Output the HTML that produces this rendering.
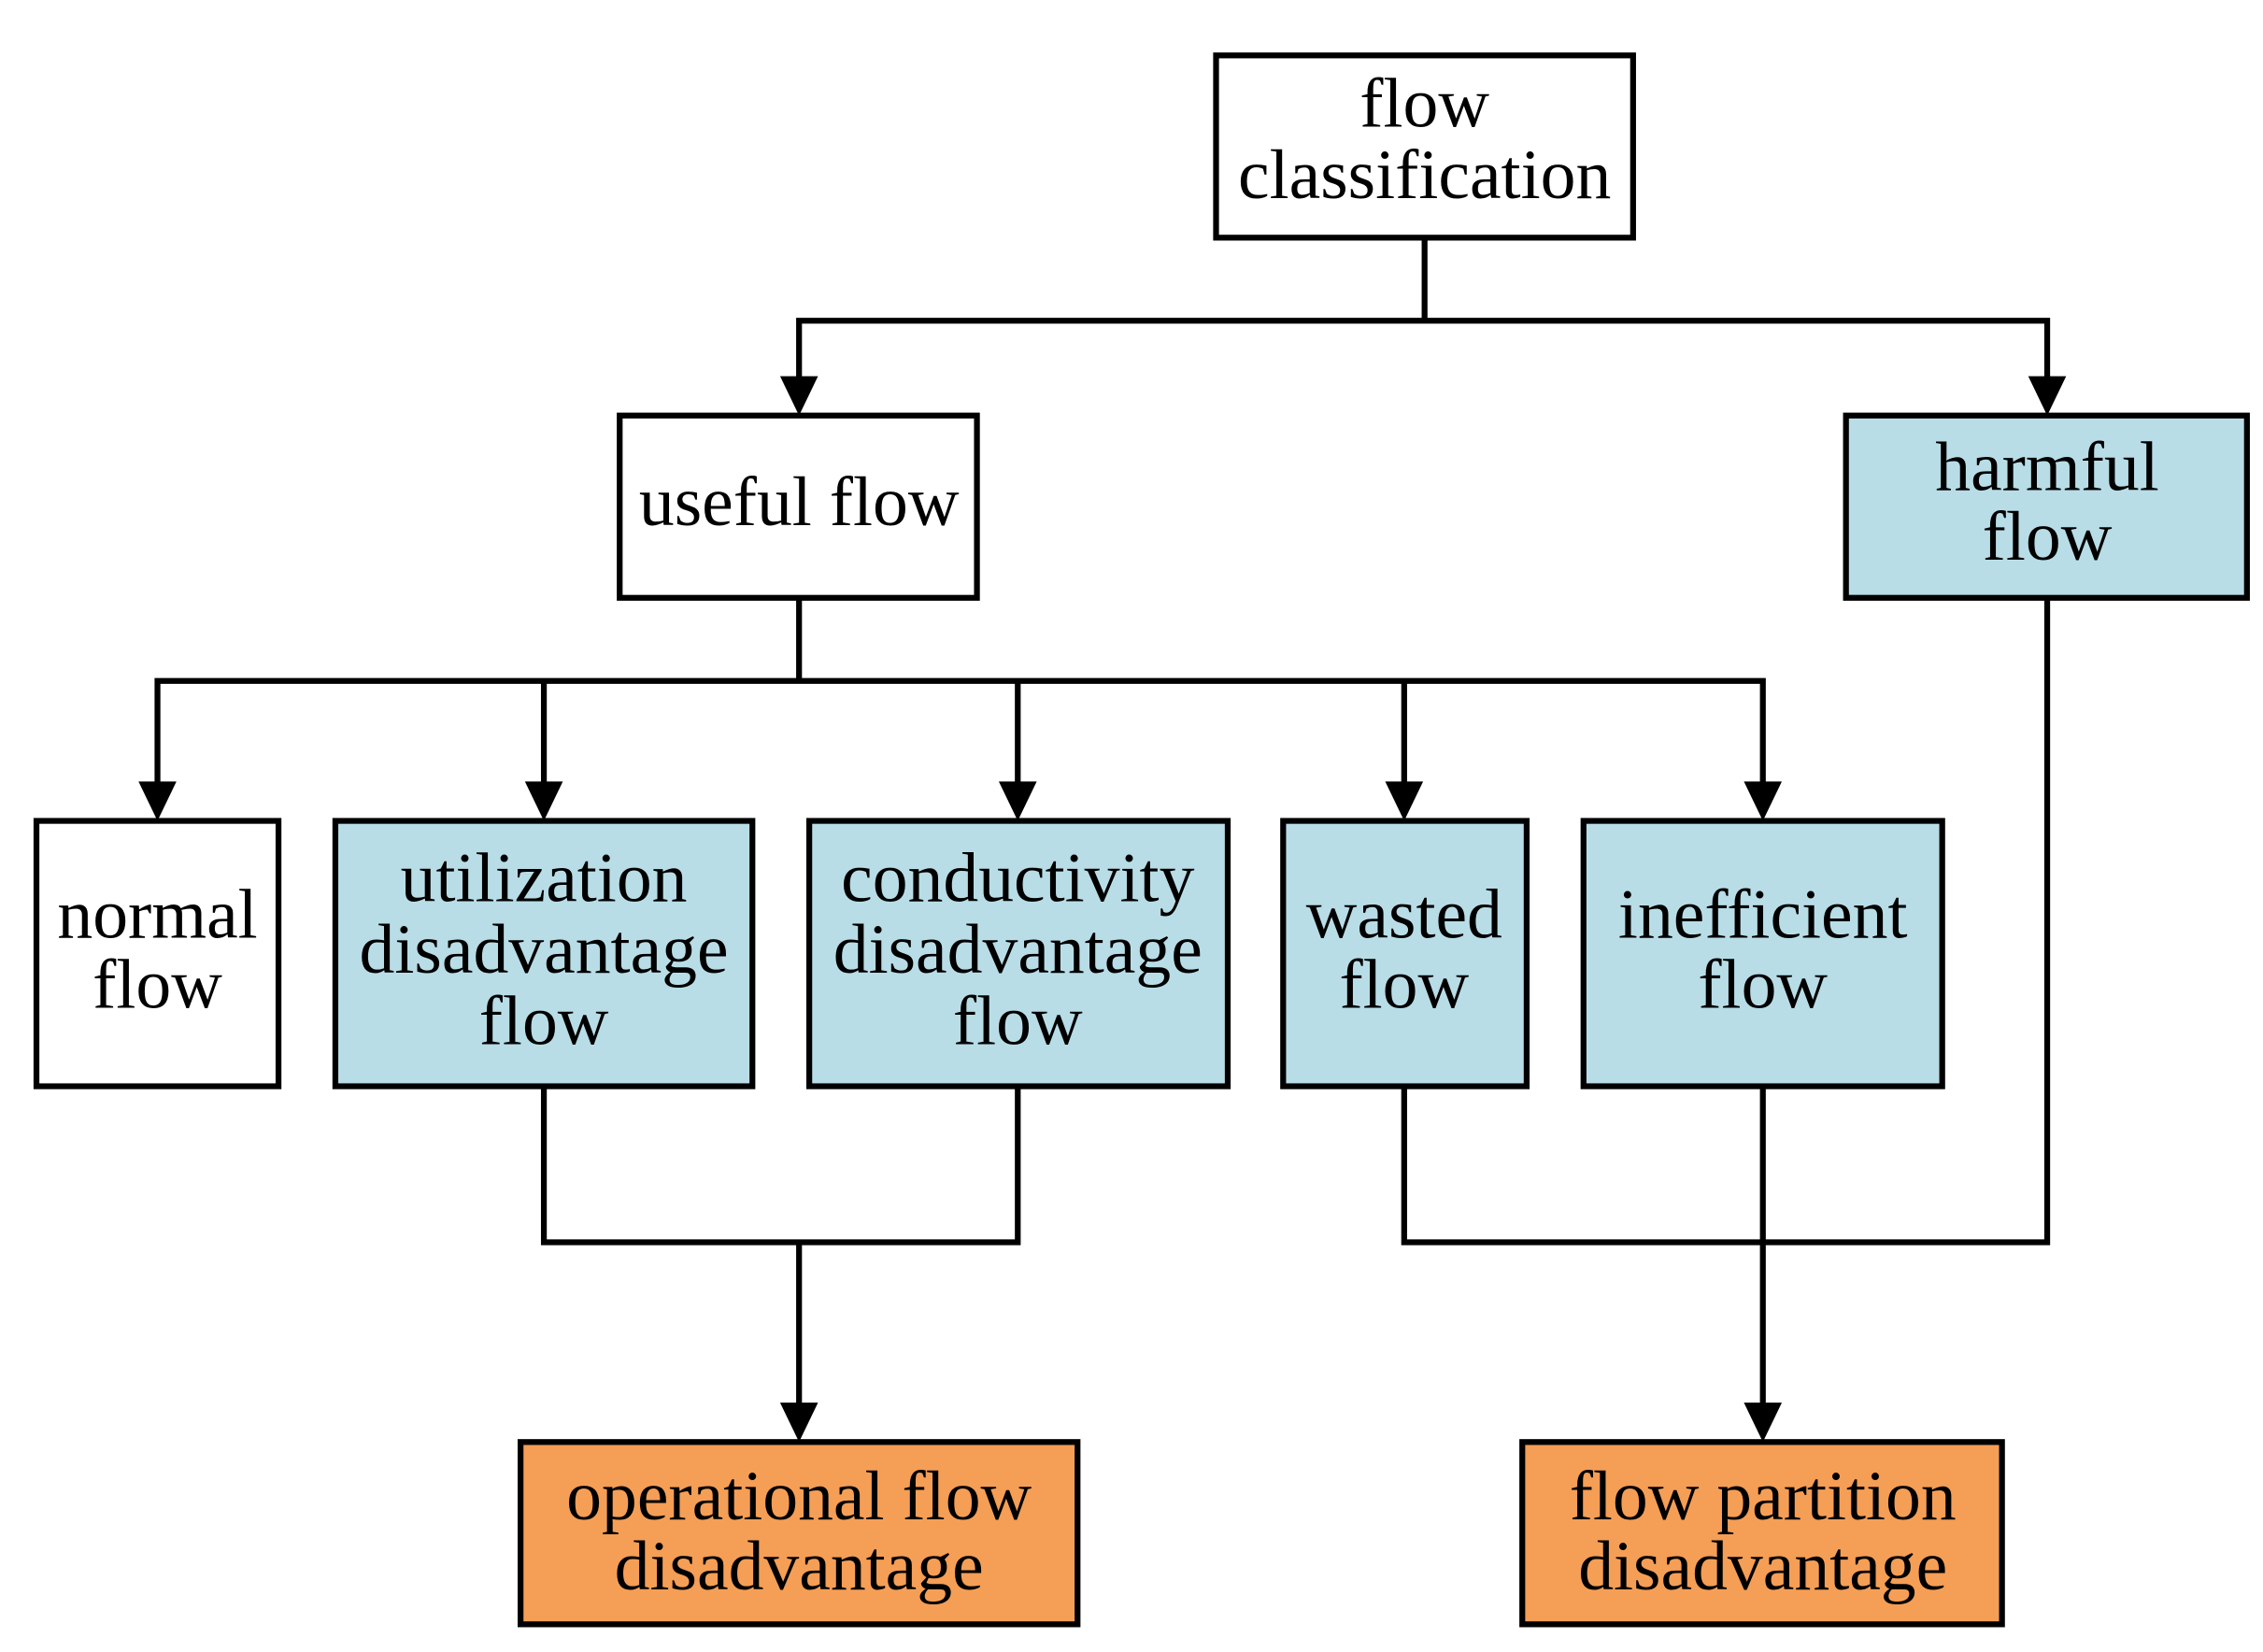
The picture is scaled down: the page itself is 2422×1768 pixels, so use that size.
<!DOCTYPE html>
<html><head><meta charset="utf-8"><style>
html,body{margin:0;padding:0;background:#fff;}
svg{display:block;}
text{font-family:"Liberation Serif",serif;font-size:48.5px;fill:#000;text-anchor:middle;}
</style></head><body>
<svg width="2422" height="1768" viewBox="0 0 1552 1133" preserveAspectRatio="none" xmlns="http://www.w3.org/2000/svg">
<g stroke="#000" stroke-width="4" fill="none">
<polyline points="977,163 977,220"/>
<polyline points="548,280 548,220 1404,220 1404,280"/>
<polyline points="548,410 548,467"/>
<polyline points="108,558 108,467 1209,467 1209,558"/>
<line x1="373" y1="467" x2="373" y2="558"/>
<line x1="698" y1="467" x2="698" y2="558"/>
<line x1="963" y1="467" x2="963" y2="558"/>
<polyline points="373,745 373,852 698,852 698,745"/>
<line x1="548" y1="852" x2="548" y2="984"/>
<polyline points="963,745 963,852 1404,852 1404,410"/>
<line x1="1209" y1="745" x2="1209" y2="984"/>
</g>
<g fill="#000">
<polygon points="535,258 561,258 548,285"/>
<polygon points="1391,258 1417,258 1404,285"/>
<polygon points="95,536 121,536 108,563"/>
<polygon points="360,536 386,536 373,563"/>
<polygon points="685,536 711,536 698,563"/>
<polygon points="950,536 976,536 963,563"/>
<polygon points="1196,536 1222,536 1209,563"/>
<polygon points="535,962 561,962 548,989"/>
<polygon points="1196,962 1222,962 1209,989"/>
</g>
<g stroke="#000" stroke-width="4">
<rect x="834" y="38" width="286" height="125" fill="#fff"/>
<rect x="425" y="285" width="245" height="125" fill="#fff"/>
<rect x="1266" y="285" width="275" height="125" fill="#b8dde7"/>
<rect x="25" y="563" width="166" height="182" fill="#fff"/>
<rect x="230" y="563" width="286" height="182" fill="#b8dde7"/>
<rect x="555" y="563" width="287" height="182" fill="#b8dde7"/>
<rect x="880" y="563" width="167" height="182" fill="#b8dde7"/>
<rect x="1086" y="563" width="246" height="182" fill="#b8dde7"/>
<rect x="357" y="989" width="382" height="125" fill="#f59e56"/>
<rect x="1044" y="989" width="329" height="125" fill="#f59e56"/>
</g>
<text x="977" y="87">flow</text>
<text x="977" y="136">classification</text>
<text x="548" y="360">useful flow</text>
<text x="1404" y="336">harmful</text>
<text x="1404" y="384">flow</text>
<text x="108" y="643">normal</text>
<text x="108" y="691">flow</text>
<text x="373" y="618">utilization</text>
<text x="373" y="667">disadvantage</text>
<text x="373" y="716">flow</text>
<text x="698" y="618">conductivity</text>
<text x="698" y="667">disadvantage</text>
<text x="698" y="716">flow</text>
<text x="963" y="643">wasted</text>
<text x="963" y="691">flow</text>
<text x="1209" y="643">inefficient</text>
<text x="1209" y="691">flow</text>
<text x="548" y="1042">operational flow</text>
<text x="548" y="1090">disadvantage</text>
<text x="1209" y="1042">flow partition</text>
<text x="1209" y="1090">disadvantage</text>
</svg>
</body></html>
